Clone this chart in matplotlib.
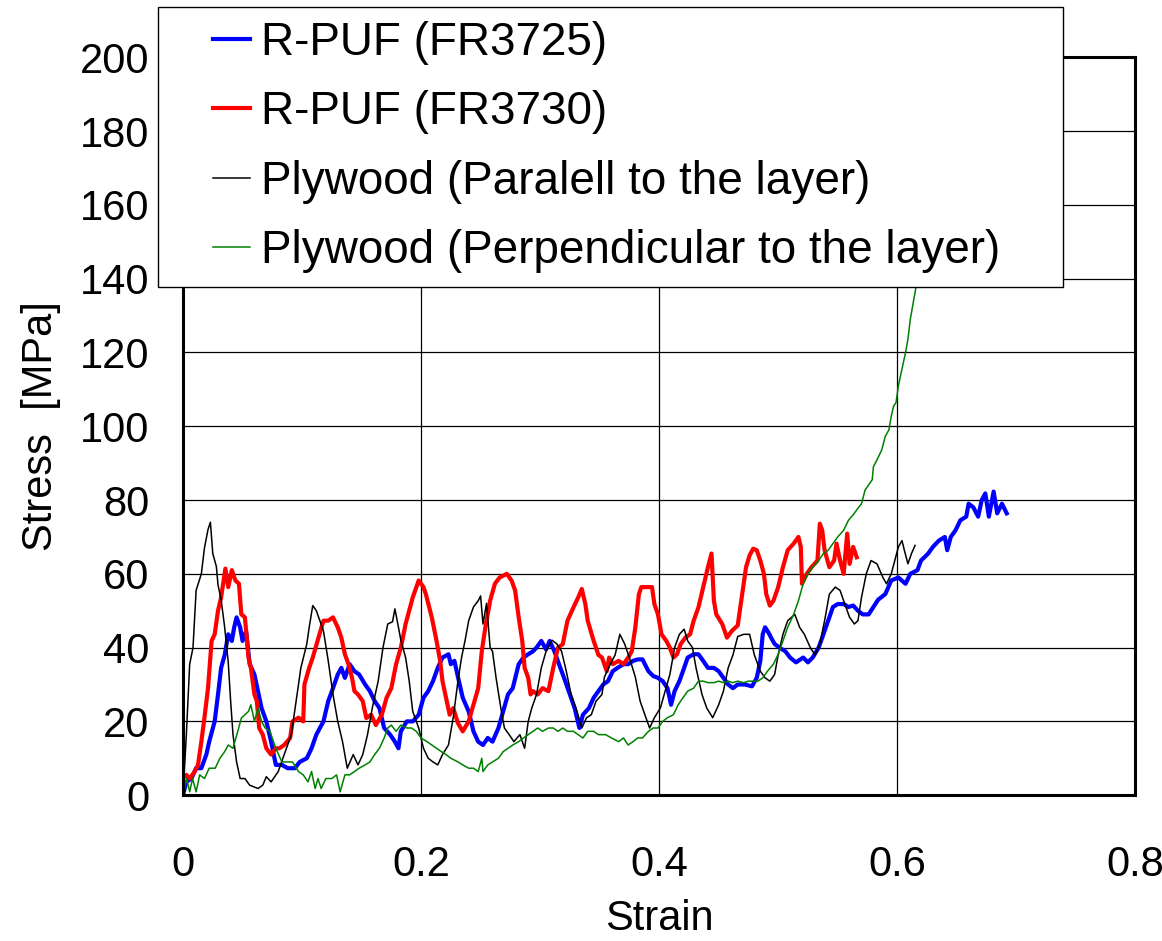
import numpy as np
from matplotlib import pyplot as plt
from matplotlib.legend_handler import HandlerLine2D

# R-PUF (FR3725)
blue_strain = [0, 0.0028, 0.007, 0.011, 0.0154, 0.0196, 0.022, 0.0266, 0.0294, 0.032, 0.035, 0.038, 0.041, 0.043,
               0.045, 0.048, 0.050, 0.053, 0.056, 0.060, 0.063, 0.066, 0.070, 0.074, 0.078, 0.083, 0.088, 0.094,
               0.098, 0.104, 0.108, 0.112, 0.118, 0.122, 0.126, 0.130, 0.133, 0.136, 0.140, 0.144, 0.148, 0.153,
               0.157, 0.161, 0.165, 0.169, 0.174, 0.178, 0.181, 0.183, 0.188, 0.193, 0.198, 0.202, 0.206, 0.210,
               0.214, 0.218, 0.223, 0.225, 0.228, 0.231, 0.235, 0.240, 0.244, 0.248, 0.252, 0.256, 0.260, 0.265,
               0.269, 0.273, 0.277, 0.282, 0.286, 0.290, 0.294, 0.297, 0.301, 0.305, 0.308, 0.312, 0.317, 0.321,
               0.325, 0.329, 0.333, 0.336, 0.341, 0.345, 0.349, 0.353, 0.357, 0.361, 0.365, 0.370, 0.374, 0.378,
               0.382, 0.386, 0.391, 0.395, 0.399, 0.403, 0.407, 0.410, 0.413, 0.417, 0.421, 0.424, 0.429, 0.433,
               0.437, 0.441, 0.446, 0.450, 0.454, 0.458, 0.462, 0.466, 0.472, 0.478, 0.482, 0.485, 0.487, 0.489,
               0.492, 0.494, 0.497, 0.501, 0.506, 0.510, 0.515, 0.521, 0.525, 0.529, 0.534, 0.538, 0.542, 0.546,
               0.550, 0.555, 0.559, 0.563, 0.567, 0.571, 0.576, 0.580, 0.584, 0.590, 0.595, 0.601, 0.607, 0.611,
               0.617, 0.620, 0.626, 0.630, 0.635, 0.640, 0.642, 0.645, 0.649, 0.653, 0.658, 0.660, 0.664, 0.668,
               0.671, 0.674, 0.677, 0.681, 0.684, 0.688, 0.692]
blue_stress = [0, 3.6, 4.5, 7.3, 7.3, 11, 14.5, 20, 27.3, 34.5, 38, 43.6, 41.8, 45.5,
               48.2, 45.5, 41.8, 44.5, 35.5, 32.7, 28.2, 23.6, 20, 14.5, 8.2, 8.2, 7.3, 7.3,
               9, 10, 12.7, 16.4, 20, 25.5, 29, 32.7, 34.5, 31.8, 35.5, 33.6, 32.7, 30,
               28.2, 25.5, 23.6, 18.2, 16.4, 14.5, 12.7, 17.3, 20, 20, 21.8, 26.4, 28.2, 30.9,
               34.5, 37.3, 38.2, 35.5, 36.4, 32, 26.4, 22.7, 17.3, 14.5, 13.6, 15.5, 14.5, 18.2,
               22.7, 27.3, 29, 35.5, 37.3, 38.2, 39, 40, 41.8, 39.5, 41.8, 39, 34.5, 31,
               27.3, 23.6, 18.2, 21.8, 23.6, 26.4, 28.2, 30, 30.9, 33.6, 34.5, 35.5, 35.5, 36.4,
               36.8, 36.8, 33.6, 32.3, 31.8, 30.9, 29, 24.5, 28.2, 30.9, 34.5, 37.3, 38.2, 38.2,
               36.4, 34.5, 34.5, 33.6, 31.8, 30, 29, 30, 30, 29.5, 31.8, 36.4, 43.6, 45.5,
               44, 42.7, 41, 40, 39, 37.3, 36, 37.3, 36, 37.3, 40, 43.6, 47.3, 51,
               51.8, 51.8, 51, 51.4, 50, 49, 49, 51, 53, 54.5, 58.2, 59, 57.3, 60,
               61, 63.6, 65.5, 67.3, 69, 70, 66.4, 70, 71.8, 74.5, 75.5, 79, 78, 75.5,
               80, 81.8, 75.5, 82.3, 76.4, 79, 76.4]

# R-PUF (FR3730)
red_strain = [0, 0.0028, 0.0056, 0.0098, 0.0126, 0.0154, 0.018, 0.021, 0.024, 0.0266, 0.0294, 0.032, 0.0356,
              0.038, 0.041, 0.044, 0.047, 0.049, 0.052, 0.055, 0.057, 0.060, 0.062, 0.064, 0.067, 0.070, 0.074,
              0.078, 0.081, 0.085, 0.090, 0.092, 0.097, 0.101, 0.102, 0.106, 0.109, 0.113, 0.118, 0.122, 0.126,
              0.130, 0.133, 0.136, 0.139, 0.142, 0.144, 0.147, 0.151, 0.154, 0.158, 0.162, 0.167, 0.171, 0.175,
              0.179, 0.183, 0.187, 0.190, 0.193, 0.198, 0.202, 0.204, 0.209, 0.213, 0.216, 0.218, 0.221, 0.224,
              0.227, 0.231, 0.235, 0.240, 0.244, 0.248, 0.251, 0.254, 0.258, 0.262, 0.266, 0.272, 0.276, 0.279,
              0.282, 0.285, 0.287, 0.290, 0.292, 0.294, 0.298, 0.302, 0.307, 0.311, 0.315, 0.319, 0.323, 0.328,
              0.332, 0.335, 0.338, 0.340, 0.345, 0.349, 0.352, 0.356, 0.358, 0.361, 0.366, 0.370, 0.374, 0.377,
              0.380, 0.383, 0.385, 0.389, 0.394, 0.396, 0.399, 0.402, 0.406, 0.409, 0.412, 0.415, 0.418, 0.422,
              0.426, 0.429, 0.433, 0.437, 0.441, 0.444, 0.446, 0.448, 0.453, 0.457, 0.461, 0.466, 0.469, 0.473,
              0.476, 0.479, 0.482, 0.485, 0.488, 0.490, 0.493, 0.496, 0.500, 0.504, 0.508, 0.513, 0.517, 0.519,
              0.520, 0.524, 0.528, 0.533, 0.535, 0.537, 0.539, 0.543, 0.547, 0.549, 0.552, 0.555, 0.558, 0.560,
              0.563, 0.566]
red_stress = [4.5, 5.5, 4.5, 6.4, 8.2, 14.5, 21, 29, 41.8, 43.6, 50, 53.6, 61.4,
              56.4, 61, 58.2, 57.3, 49, 48.2, 37.3, 34.5, 27.3, 25.5, 18.2, 16.4, 12.7, 11,
              12.7, 12.7, 13.6, 15.5, 20, 21, 20, 30, 34.5, 37.3, 41.8, 47.3, 47.3, 48.2,
              45.5, 42.7, 38.2, 35.5, 31.8, 28.2, 27.3, 25.5, 20.9, 21.8, 19, 21.8, 26.4, 29,
              35.5, 40, 46.4, 50, 53.6, 58.2, 56.4, 54.5, 48.2, 41.8, 36.4, 30.9, 26.4, 21.8,
              23.6, 19.5, 17.3, 20, 24.5, 29, 39, 45.5, 52.7, 57.3, 59, 60, 58.2, 55.5,
              48.2, 41.8, 34.5, 31.8, 27.3, 28.2, 27.3, 29, 28.2, 34.5, 40, 40.9, 47.3, 50.9,
              53.6, 55.9, 51.8, 47.3, 41.8, 38, 37.3, 33.6, 37.3, 35.5, 36.4, 35.5, 37.3, 39,
              45.5, 54.5, 56.4, 56.4, 56.4, 51.8, 49, 43.6, 41.8, 40, 37.3, 38.2, 40.9, 42.7,
              43.6, 47.3, 50.9, 56.4, 61.8, 65.5, 52.7, 49, 46.4, 42.7, 44.5, 46, 52.7, 61.8,
              65, 66.8, 66.4, 63.6, 60, 54.5, 51.4, 52.7, 56.4, 61.8, 66.4, 68.2, 70, 67.3,
              57.3, 60, 61.8, 63.6, 73.6, 71.8, 66.4, 61.8, 63.6, 68.2, 63.6, 60, 70.9, 62.7,
              67.3, 64.5]

# Plywood (parallel to the layer)
black_strain = [0, 0.0028, 0.0056, 0.0084, 0.011, 0.0154, 0.018, 0.021, 0.023, 0.025, 0.028, 0.0294, 0.032,
                0.035, 0.038, 0.040, 0.042, 0.045, 0.048, 0.052, 0.056, 0.063, 0.067, 0.070, 0.074, 0.080,
                0.085, 0.091, 0.095, 0.099, 0.104, 0.106, 0.109, 0.112, 0.118, 0.122, 0.126, 0.130, 0.134,
                0.138, 0.143, 0.147, 0.151, 0.155, 0.159, 0.164, 0.168, 0.172, 0.176, 0.178, 0.181, 0.183,
                0.187, 0.190, 0.193, 0.198, 0.202, 0.206, 0.210, 0.214, 0.218, 0.223, 0.227, 0.231, 0.234,
                0.237, 0.240, 0.244, 0.248, 0.250, 0.252, 0.255, 0.258, 0.260, 0.263, 0.267, 0.270, 0.274,
                0.278, 0.283, 0.287, 0.290, 0.293, 0.297, 0.301, 0.305, 0.310, 0.314, 0.318, 0.322, 0.326,
                0.331, 0.335, 0.339, 0.343, 0.347, 0.352, 0.354, 0.359, 0.363, 0.367, 0.371, 0.375, 0.380,
                0.384, 0.388, 0.392, 0.396, 0.401, 0.405, 0.409, 0.413, 0.417, 0.421, 0.424, 0.428, 0.431,
                0.436, 0.440, 0.445, 0.450, 0.454, 0.458, 0.462, 0.466, 0.471, 0.476, 0.480, 0.485, 0.489,
                0.493, 0.497, 0.500, 0.504, 0.508, 0.514, 0.518, 0.522, 0.527, 0.531, 0.535, 0.539, 0.543,
                0.548, 0.552, 0.556, 0.560, 0.564, 0.567, 0.570, 0.574, 0.578, 0.583, 0.588, 0.591, 0.595,
                0.598, 0.601, 0.604, 0.606, 0.609, 0.612, 0.615]
black_stress = [0, 16.4, 35.5, 40, 55.5, 60, 67, 72, 74, 65.5, 62, 57, 53,
                45.5, 36, 25.5, 16.4, 9, 4.5, 4.5, 2.7, 1.8, 2.7, 5, 3.6, 6.4,
                11, 16.4, 25.5, 34.5, 41, 45.5, 51.4, 50, 44.5, 36.4, 27.3, 20, 14.5,
                7.3, 11, 8.2, 11, 16.4, 23.6, 31, 40, 46.4, 47, 50.5, 45.5, 42,
                37.3, 31, 22.7, 18.2, 12.7, 10, 9, 8.2, 11, 13.6, 21, 31, 37.3,
                42, 47.3, 51, 52.7, 54, 46.4, 52, 40, 39, 31.8, 23.6, 18.2, 16.4,
                14.5, 16.4, 12.7, 20, 23.6, 27.3, 34.5, 39, 42, 41, 39, 33.6, 27.3,
                22.7, 18.2, 21, 21.8, 25.5, 27.3, 32, 35.5, 38, 43.6, 41, 37.3, 32,
                25.5, 21.8, 18.2, 21, 23.6, 28.2, 32.7, 40, 43.6, 45, 41.8, 40, 34.5,
                27.3, 23.6, 21, 24.5, 28.2, 34.5, 38, 43, 43.6, 43.6, 38, 33.6, 31.8,
                30.9, 32.7, 38, 43.6, 47.3, 49, 45.5, 43.6, 40, 38, 41, 47.3, 54.5,
                56.4, 55.5, 51.8, 48.2, 46.4, 47.3, 53.6, 60, 63.6, 62.7, 59, 57.3, 60,
                63.6, 67.3, 69, 66.4, 62.7, 65.5, 67.7]

# Plywood (perpendicular to the layer)
green_strain = [0, 0.003, 0.0056, 0.008, 0.011, 0.014, 0.018, 0.022, 0.027, 0.031, 0.035, 0.038, 0.042, 0.046,
                0.049, 0.052, 0.055, 0.057, 0.060, 0.063, 0.066, 0.069, 0.073, 0.076, 0.078, 0.083, 0.087,
                0.092, 0.097, 0.101, 0.105, 0.108, 0.111, 0.1134, 0.116, 0.120, 0.125, 0.129, 0.132, 0.136,
                0.140, 0.144, 0.148, 0.153, 0.157, 0.161, 0.165, 0.169, 0.172, 0.175, 0.179, 0.183, 0.188,
                0.192, 0.196, 0.200, 0.205, 0.209, 0.213, 0.217, 0.221, 0.225, 0.231, 0.235, 0.240, 0.244,
                0.248, 0.251, 0.252, 0.256, 0.260, 0.265, 0.269, 0.273, 0.277, 0.282, 0.286, 0.290, 0.294,
                0.298, 0.302, 0.307, 0.311, 0.315, 0.319, 0.323, 0.328, 0.332, 0.336, 0.340, 0.345, 0.349,
                0.355, 0.360, 0.366, 0.370, 0.374, 0.378, 0.382, 0.386, 0.391, 0.395, 0.399, 0.403, 0.407,
                0.412, 0.416, 0.420, 0.424, 0.429, 0.433, 0.437, 0.441, 0.446, 0.450, 0.454, 0.458, 0.462,
                0.466, 0.471, 0.475, 0.479, 0.483, 0.487, 0.491, 0.496, 0.500, 0.504, 0.508, 0.513, 0.517,
                0.521, 0.525, 0.529, 0.534, 0.538, 0.542, 0.546, 0.550, 0.555, 0.559, 0.563, 0.568, 0.570,
                0.573, 0.579, 0.580, 0.583, 0.587, 0.590, 0.593, 0.595, 0.597, 0.599, 0.601, 0.604, 0.607,
                0.609, 0.611, 0.614, 0.617, 0.625, 0.632, 0.640]
green_stress = [0, 4.5, 0.9, 4.5, 0.9, 5.5, 4.5, 7.3, 7.3, 10, 11.8, 13.6, 12.7, 17.3,
                20.9, 21.8, 22.7, 24.5, 20, 23.6, 20, 18.2, 17.3, 14.5, 12.7, 9, 9,
                9, 6.4, 5.5, 3.6, 6.4, 1.8, 4.5, 1.8, 4.5, 4.5, 5.5, 0.9, 5.5,
                5.5, 6.4, 7.3, 8.2, 9, 11, 12.7, 15.5, 18.2, 19, 17.3, 19, 18.2,
                18.2, 17.3, 15.5, 14.5, 13.6, 12.7, 11.8, 11, 10, 9, 8.2, 7.3, 7.3,
                6.4, 10, 6.4, 8.2, 9, 10, 11.8, 12.7, 13.6, 14.5, 15.5, 16.4, 17.3,
                18.2, 17.3, 18.2, 18.2, 17.3, 18.2, 17.3, 17.3, 16.4, 15.5, 17.3, 17.3, 16.4,
                16.4, 15.5, 14.5, 15.5, 13.6, 14.5, 15.5, 15.5, 17.3, 18.2, 18.2, 20, 21,
                21.8, 24.5, 26.4, 28.2, 29, 30.9, 30.9, 30.5, 30.5, 30.9, 30.5, 30.9, 30.5,
                30.9, 30.5, 30.9, 30.9, 30.9, 31.8, 33.6, 35.5, 38.2, 41.8, 45.5, 49, 52.7,
                57.3, 60, 61.8, 63.6, 65.5, 66.4, 68.2, 70, 71.8, 74.5, 76, 78.2, 79,
                82.7, 85.5, 89, 90.9, 93.6, 97.3, 99, 102.7, 105.5, 106.4, 111, 115.5, 120,
                123.6, 129, 134.5, 140, 160, 180, 200]

labels = ['R-PUF (FR3725)', 'R-PUF (FR3730)',
          'Plywood (Paralell to the layer)', 'Plywood (Perpendicular to the layer)']
x_ticks = [0, 0.2, 0.4, 0.6, 0.8]
x_tick_labels = ['0', '0.2', '0.4', '0.6', '0.8']
y_ticks = np.arange(0, 201, 20)

plt.rcParams['font.family'] = ['Liberation Sans', 'DejaVu Sans']

fig = plt.figure(figsize=(11.62, 9.41), dpi=100)
ax = fig.add_axes([0.1575, 0.155, 0.8195, 0.784])

ax.plot(blue_strain, blue_stress, color='#0000ff', lw=3.0, label=labels[0])
ax.plot(red_strain, red_stress, color='#ff0000', lw=3.0, label=labels[1])
ax.plot(black_strain, black_stress, color='black', lw=1.1, label=labels[2])
ax.plot(green_strain, green_stress, color='#008000', lw=1.1, label=labels[3])

ax.set_xlim(0, 0.8)
ax.set_ylim(0, 200)
ax.set_xticks(x_ticks)
ax.set_xticklabels(x_tick_labels)
ax.set_yticks(y_ticks)
ax.tick_params(axis='both', length=0, labelsize=30)
ax.tick_params(axis='x', pad=36)
ax.tick_params(axis='y', pad=24)
ax.grid(True, color='black', lw=0.9)
for side in ['left', 'bottom', 'right', 'top']:
    ax.spines[side].set_linewidth(2.2)

ax.set_xlabel('Strain', fontsize=30, labelpad=10)
ax.set_ylabel('Stress  [MPa]', fontsize=30, labelpad=14)

# short handles sitting a little in from the legend's left edge
handle = HandlerLine2D(xpad=0.9)
leg = ax.legend(loc='upper left', bbox_to_anchor=(-0.0263, 1.0678, 0.9507, 0.0), mode='expand',
                fontsize=33, frameon=True, fancybox=False, framealpha=1, edgecolor='black',
                handlelength=1.7, handletextpad=0.25, labelspacing=0.55, borderpad=0.3,
                borderaxespad=0, handler_map={plt.Line2D: handle})
leg.get_frame().set_linewidth(1.0)
leg.set_zorder(10)

fig.savefig('out.png', dpi=100)
